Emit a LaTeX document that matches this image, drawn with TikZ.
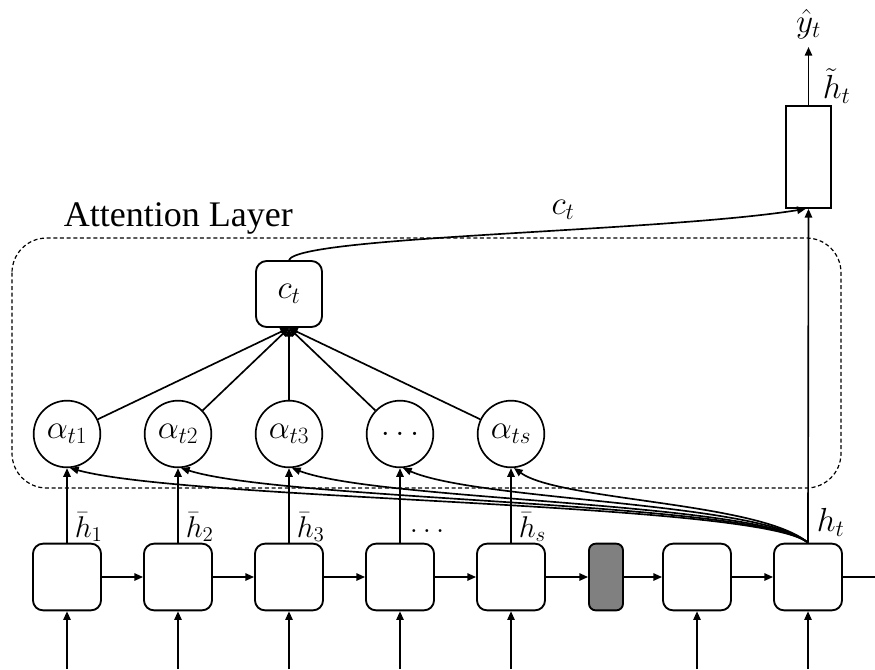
\RequirePackage{fix-cm}
\documentclass[tikz,border=0pt]{standalone}
\usepackage{fontspec}
\newfontfamily\titlefont{Liberation Serif}
\usetikzlibrary{arrows.meta}

\begin{document}
\begin{tikzpicture}[x=0.75pt,y=-0.75pt,
  >={Triangle[length=6.5pt,width=5.5pt]},
  line width=1.25pt,
  mathfont/.style={font=\fontsize{25}{27}\selectfont},
  cell/.style={draw, rounded corners=7.5pt, minimum width=51pt, minimum height=50pt,
               inner sep=0pt, line width=1.4pt},
  gate/.style={cell, fill=black!50, minimum width=25.5pt, rounded corners=5pt},
  weight/.style={draw, circle, minimum size=50pt, inner sep=0pt, line width=1.25pt, mathfont},
  ctx/.style={cell, minimum width=49.5pt, minimum height=49.5pt, rounded corners=8pt, mathfont},
  outbox/.style={draw, minimum width=34pt, minimum height=76.5pt, inner sep=0pt, line width=1.25pt},
  lbl/.style={inner sep=0pt, mathfont},
  statelbl/.style={inner sep=0pt, anchor=west, font=\fontsize{22.5}{24}\selectfont},
  layerbox/.style={draw, dashed, dash pattern=on 3pt off 2pt, line width=0.9pt, rounded corners=26pt}
]
\useasboundingbox (0,0) rectangle (875,669);

% attention layer frame and title
\draw[layerbox] (12,238) rectangle (841,488);
\node[inner sep=0pt, anchor=base west, font=\titlefont\fontsize{27}{30}\selectfont]
  (title) at (63,226) {Attention Layer};

% recurrent cells
\node[cell] (b1) at (67,577) {};
\node[cell] (b2) at (178,577) {};
\node[cell] (b3) at (289,577) {};
\node[cell] (b4) at (400,577) {};
\node[cell] (b5) at (511,577) {};
\node[gate] (g)  at (606,577) {};
\node[cell] (b7) at (697,577) {};
\node[cell] (b8) at (808,577) {};

% attention weights
\node[weight] (a1) at (67,434)  {$\alpha_{t1}$};
\node[weight] (a2) at (178,434) {$\alpha_{t2}$};
\node[weight] (a3) at (289,434) {$\alpha_{t3}$};
\node[weight] (a4) at (400,434) {$\ldots$};
\node[weight] (a5) at (511,434) {$\alpha_{ts}$};

% context vector and output
\node[ctx] (ct) at (289,294) {$c_t$};
\node[outbox] (top) at (808.5,157) {};
\coordinate (yout) at (808.5,47);
\node[lbl] (yhat) at (808.5,24) {$\hat{y}_t$};
\node[lbl, anchor=west] (htil) at (822,86) {$\tilde{h}_t$};
\node[lbl] (ctlab) at (563,210) {$c_t$};

% inputs
\foreach \n/\x in {b1/67, b2/178, b3/289, b4/400, b5/511, b7/697, b8/808} {
  \coordinate (in-\n) at (\x,669);
  \draw[->] (in-\n) -- (\n.south);
}

% horizontal recurrence
\draw[->] (b1.east) -- (b2.west);
\draw[->] (b2.east) -- (b3.west);
\draw[->] (b3.east) -- (b4.west);
\draw[->] (b4.east) -- (b5.west);
\draw[->] (b5.east) -- (g.west);
\draw[->] (g.east) -- (b7.west);
\draw[->] (b7.east) -- (b8.west);
\coordinate (outr) at (875,577);
\draw (b8.east) -- (outr);

% encoder states into weights
\foreach \i in {1,...,5} {
  \draw[->] (b\i.north) -- (a\i.south);
}

% decoder state into each weight
\foreach \i/\cx in {1/190, 2/285, 3/378, 4/478, 5/560} {
  \draw[->] (b8.north) .. controls (760,502) and (\cx,501) .. (a\i.-85);
}

% weights into context
\foreach \i in {1,...,5} {
  \draw[->] (a\i) -- (ct.south);
}

% decoder state and context into output layer
\draw[->] (b8.north) -- (top.south);
\draw[->] (ct.north) .. controls (298,236) and (660,232) .. ([xshift=-2pt]top.south);
\draw[->] (top.north) -- (yout);

% state labels, set last so they sit above the curves
\node[statelbl] (hb1) at (74,527)  {$\bar{h}_1$};
\node[statelbl] (hb2) at (185,527) {$\bar{h}_2$};
\node[statelbl] (hb3) at (296,527) {$\bar{h}_3$};
\node[statelbl] (hb4) at (409,531) {$\ldots$};
\node[statelbl] (hb5) at (518,527) {$\bar{h}_s$};
\node[lbl, anchor=west] (htlab) at (816,522) {$h_t$};
\end{tikzpicture}
\end{document}
